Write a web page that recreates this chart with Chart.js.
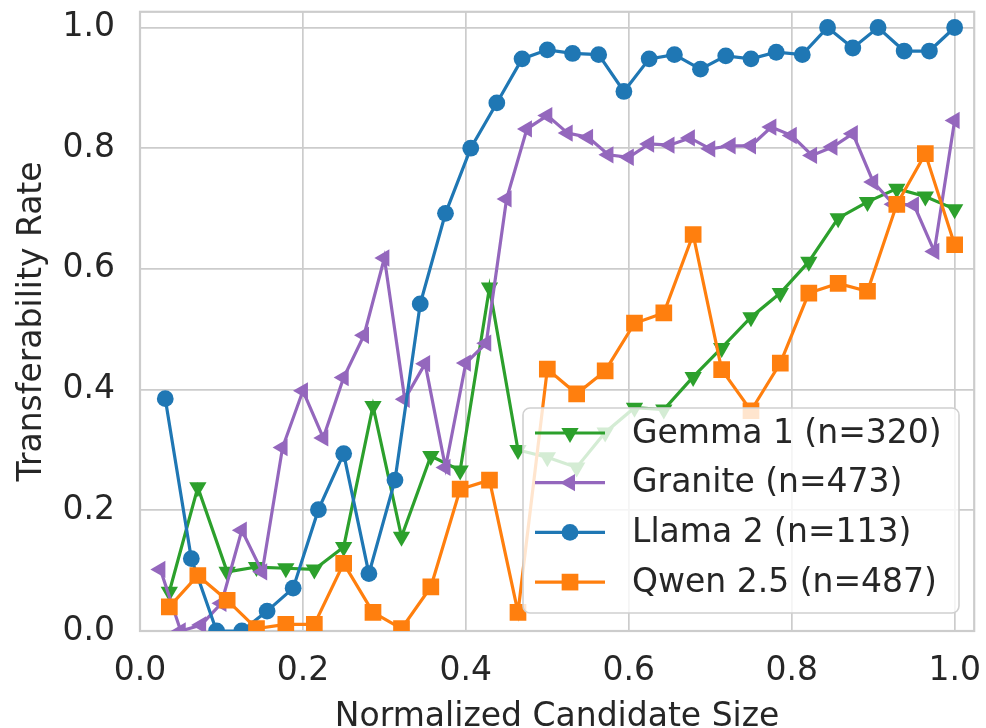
<!DOCTYPE html>
<html>
<head>
<meta charset="utf-8">
<title>Transferability Rate</title>
<script src="https://cdn.jsdelivr.net/npm/chart.js@4.4.0/dist/chart.umd.min.js"></script>
<style>
    html, body { margin: 0; padding: 0; background: #ffffff; }
    #wrap { width: 986px; height: 728px; }
</style>
</head>
<body>
<div id="wrap"><canvas id="transferChart" width="986" height="728"></canvas></div>
<script>
// ------------------------- Données -------------------------

const gemmaX = [0.036, 0.071, 0.107, 0.143, 0.179, 0.214, 0.25, 0.286, 0.321, 0.357, 0.393, 0.429, 0.464, 0.5,
    0.536, 0.571, 0.607, 0.643, 0.679, 0.714, 0.75, 0.786, 0.821, 0.857, 0.893, 0.929, 0.964, 1.0];
const gemmaY = [0.065, 0.238, 0.098, 0.106, 0.104, 0.102, 0.139, 0.373, 0.156, 0.29, 0.266, 0.569, 0.30, 0.288,
    0.271, 0.329, 0.37, 0.367, 0.421, 0.469, 0.52, 0.56, 0.612, 0.684, 0.711, 0.733, 0.72, 0.699];

const graniteX = [0.025, 0.05, 0.075, 0.1, 0.125, 0.15, 0.175, 0.2, 0.225, 0.25, 0.275, 0.3, 0.325, 0.35,
    0.375, 0.4, 0.425, 0.45, 0.475, 0.5, 0.525, 0.55, 0.575, 0.6, 0.625, 0.65, 0.675, 0.7, 0.725, 0.75,
    0.775, 0.8, 0.825, 0.85, 0.875, 0.9, 0.925, 0.95, 0.975, 1.0];
const graniteY = [0.102, 0.0, 0.01, 0.046, 0.167, 0.098, 0.304, 0.398, 0.32, 0.42, 0.49, 0.618, 0.384, 0.443,
    0.271, 0.444, 0.477, 0.716, 0.832, 0.854, 0.825, 0.818, 0.789, 0.785, 0.807, 0.805, 0.817, 0.799, 0.804, 0.804,
    0.835, 0.821, 0.788, 0.802, 0.824, 0.744, 0.707, 0.706, 0.629, 0.846];

const llamaX = [0.031, 0.063, 0.094, 0.125, 0.156, 0.188, 0.219, 0.25, 0.281, 0.313, 0.344, 0.375, 0.406, 0.438,
    0.469, 0.5, 0.531, 0.563, 0.594, 0.625, 0.656, 0.688, 0.719, 0.75, 0.781, 0.813, 0.844, 0.875, 0.906, 0.938,
    0.969, 1.0];
const llamaY = [0.385, 0.12, 0.0, 0.0, 0.033, 0.071, 0.201, 0.294, 0.095, 0.25, 0.542, 0.692, 0.80, 0.875,
    0.948, 0.963, 0.957, 0.955, 0.894, 0.948, 0.955, 0.931, 0.953, 0.948, 0.959, 0.955, 1.0, 0.966, 1.0, 0.961,
    0.961, 1.0];

const qwenX = [0.036, 0.071, 0.107, 0.143, 0.179, 0.214, 0.25, 0.286, 0.321, 0.357, 0.393, 0.429, 0.464, 0.5,
    0.536, 0.571, 0.607, 0.643, 0.679, 0.714, 0.75, 0.786, 0.821, 0.857, 0.893, 0.929, 0.964, 1.0];
const qwenY = [0.04, 0.092, 0.051, 0.004, 0.011, 0.011, 0.112, 0.031, 0.004, 0.073, 0.235, 0.25, 0.031, 0.434,
    0.393, 0.431, 0.51, 0.527, 0.657, 0.433, 0.365, 0.444, 0.56, 0.576, 0.563, 0.707, 0.791, 0.64];

const seriesLabels = ['Gemma 1 (n=320)', 'Granite (n=473)', 'Llama 2 (n=113)', 'Qwen 2.5 (n=487)'];

const xTicks = [0.0, 0.2, 0.4, 0.6, 0.8, 1.0];
const yTicks = [0.0, 0.2, 0.4, 0.6, 0.8, 1.0];

// ------------------------- Style -------------------------

const FONT = 'DejaVu Sans';
const TEXT_COLOR = '#262626';
const GRID_COLOR = '#cccccc';

function toPoints(xs, ys) {
    return xs.map((x, i) => ({ x: x, y: ys[i] }));
}

function makeDataset(label, xs, ys, color, style, rot, radius, order) {
    return {
        label: label,
        data: toPoints(xs, ys),
        borderColor: color,
        backgroundColor: color,
        borderWidth: 3.2,
        pointStyle: style,
        pointRotation: rot,
        pointRadius: radius,
        pointBorderWidth: 0,
        pointBackgroundColor: color,
        tension: 0,
        order: order
    };
}

const datasets = [
    makeDataset(seriesLabels[0], gemmaX, gemmaY, '#2ca02c', 'triangle', 180, 10, 4),
    makeDataset(seriesLabels[1], graniteX, graniteY, '#9467bd', 'triangle', 270, 10, 3),
    makeDataset(seriesLabels[2], llamaX, llamaY, '#1f77b4', 'circle', 0, 8.4, 2),
    makeDataset(seriesLabels[3], qwenX, qwenY, '#ff7f0e', 'rect', 0, 11.8, 1)
];

// petit dessin de marqueur, même géométrie que Chart.js
function drawMarker(ctx, style, x, y, r, rot) {
    ctx.save();
    ctx.translate(x, y);
    ctx.rotate(rot * Math.PI / 180);
    ctx.beginPath();
    if (style === 'circle') {
        ctx.arc(0, 0, r, 0, 2 * Math.PI);
    } else if (style === 'rect') {
        const s = r * Math.SQRT1_2;
        ctx.rect(-s, -s, 2 * s, 2 * s);
    } else {
        for (let i = 0; i < 3; i++) {
            const a = i * 2 * Math.PI / 3;
            ctx.lineTo(Math.sin(a) * r, -Math.cos(a) * r);
        }
        ctx.closePath();
    }
    ctx.fill();
    ctx.restore();
}

// on enlève les marges que Chart.js ajoute pour les étiquettes
function noPadding(scale) {
    scale.paddingTop = 0;
    scale.paddingBottom = 0;
    scale.paddingLeft = 0;
    scale.paddingRight = 0;
}

// cadre gris autour de la zone du graphe
const frameBox = {
    id: 'frameBox',
    beforeDatasetsDraw(chart) {
        const a = chart.chartArea;
        const ctx = chart.ctx;
        ctx.save();
        ctx.strokeStyle = GRID_COLOR;
        ctx.lineWidth = 2.2;
        ctx.strokeRect(a.left, a.top, a.right - a.left, a.bottom - a.top);
        ctx.restore();
    }
};

// légende dans le coin en bas à droite
const legendBox = {
    id: 'legendBox',
    afterDatasetsDraw(chart) {
        const ctx = chart.ctx;
        const bx = 523, by = 408, bw = 436, bh = 205, rad = 7;
        ctx.save();
        ctx.beginPath();
        ctx.moveTo(bx + rad, by);
        ctx.arcTo(bx + bw, by, bx + bw, by + bh, rad);
        ctx.arcTo(bx + bw, by + bh, bx, by + bh, rad);
        ctx.arcTo(bx, by + bh, bx, by, rad);
        ctx.arcTo(bx, by, bx + bw, by, rad);
        ctx.closePath();
        ctx.fillStyle = 'rgba(255,255,255,0.8)';
        ctx.fill();
        ctx.strokeStyle = '#d0d0d0';
        ctx.lineWidth = 1.6;
        ctx.stroke();

        ctx.font = '33px "' + FONT + '"';
        ctx.textBaseline = 'middle';
        ctx.textAlign = 'left';
        chart.data.datasets.forEach(function(ds, i) {
            const y = 433 + i * 49.7;
            ctx.strokeStyle = ds.borderColor;
            ctx.lineWidth = ds.borderWidth;
            ctx.beginPath();
            ctx.moveTo(535, y);
            ctx.lineTo(605, y);
            ctx.stroke();
            ctx.fillStyle = ds.borderColor;
            drawMarker(ctx, ds.pointStyle, 570, y, ds.pointRadius, ds.pointRotation);
            ctx.fillStyle = TEXT_COLOR;
            ctx.fillText(ds.label, 632, y + 1);
        });
        ctx.restore();
    }
};

const ctx = document.getElementById('transferChart').getContext('2d');
new Chart(ctx, {
    type: 'line',
    data: { datasets: datasets },
    options: {
        responsive: false,
        animation: false,
        devicePixelRatio: 1,
        layout: { padding: { top: 9, right: 10, left: 0, bottom: 0 } },
        plugins: {
            legend: { display: false },
            tooltip: { enabled: false }
        },
        scales: {
            x: {
                type: 'linear',
                min: 0,
                max: 1.024,
                afterBuildTicks: function(scale) {
                    scale.ticks = xTicks.map(v => ({ value: v }));
                },
                afterFit: function(scale) {
                    scale.height = 97;
                    noPadding(scale);
                },
                grid: { color: GRID_COLOR, lineWidth: 1.7, drawTicks: false },
                border: { display: false },
                ticks: {
                    autoSkip: false,
                    maxRotation: 0,
                    padding: 21,
                    color: TEXT_COLOR,
                    font: { family: FONT, size: 33 },
                    callback: v => v.toFixed(1)
                },
                title: {
                    display: true,
                    text: 'Normalized Candidate Size',
                    color: TEXT_COLOR,
                    font: { family: FONT, size: 33 },
                    padding: { top: 0, bottom: -9 }
                }
            },
            y: {
                type: 'linear',
                min: 0,
                max: 1.026,
                afterBuildTicks: function(scale) {
                    scale.ticks = yTicks.map(v => ({ value: v }));
                },
                afterFit: function(scale) {
                    scale.width = 140;
                    noPadding(scale);
                },
                grid: { color: GRID_COLOR, lineWidth: 1.7, drawTicks: false },
                border: { display: false },
                ticks: {
                    padding: 25,
                    color: TEXT_COLOR,
                    font: { family: FONT, size: 33 },
                    callback: v => v.toFixed(1)
                },
                title: {
                    display: true,
                    text: 'Transferability Rate',
                    color: TEXT_COLOR,
                    font: { family: FONT, size: 33 },
                    padding: { top: 13, bottom: 0 }
                }
            }
        }
    },
    plugins: [frameBox, legendBox]
});
</script>
</body>
</html>
